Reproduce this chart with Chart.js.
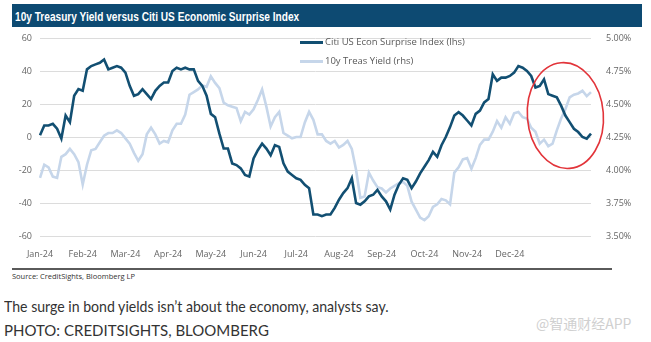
<!DOCTYPE html>
<html>
<head>
<meta charset="utf-8">
<script src="https://cdn.jsdelivr.net/npm/chart.js@4.4.1/dist/chart.umd.min.js"></script>
<style>
  body { margin: 0; width: 651px; height: 342px; background: #fff; position: relative; overflow: hidden; }
  #title { position: absolute; left: 12px; top: 4px; width: 630px; height: 23px; background: #0d4a72;
           line-height: 23px; padding-left: 3px; box-sizing: border-box; }
  #title span { display: inline-block; color: #fff; font: bold 12.5px 'Liberation Sans', Arial, sans-serif;
                transform: scaleX(0.81); transform-origin: left center; white-space: nowrap; }
  #wrap { position: absolute; left: 0; top: 0; width: 651px; height: 262px; }
  #legend { position: absolute; left: 300px; top: 34px; font: 9.5px 'Open Sans', sans-serif; color: #595959; }
  #legend div { height: 19px; line-height: 15px; white-space: nowrap; }
  #legend span.ln { display: inline-block; width: 23px; height: 3px; vertical-align: middle; margin-right: 2px; }
  #src { position: absolute; left: 12px; top: 268px; width: 600px; border-top: 2px solid #5a5a5a;
         font: 7.5px 'Open Sans', sans-serif; color: #333; padding-top: 1px; }
  .cap { position: absolute; left: 4px; font: 15px Lato, sans-serif; color: #333; white-space: nowrap;
         transform-origin: left center; }
  #cap1 { top: 297px; transform: scaleX(0.94); }
  #cap2 { top: 321px; }
  #wm { position: absolute; left: 536px; top: 313px; font: 14px 'Noto Sans CJK SC', sans-serif; color: #d0d0d0; }
</style>
</head>
<body>
<div id="title"><span>10y Treasury Yield versus Citi US Economic Surprise Index</span></div>
<div id="wrap"><canvas id="chart"></canvas></div>
<div id="legend"></div>
<div id="src">Source: CreditSights, Bloomberg LP</div>
<div id="cap1" class="cap">The surge in bond yields isn’t about the economy, analysts say.</div>
<div id="cap2" class="cap">PHOTO: CREDITSIGHTS, BLOOMBERG</div>
<div id="wm">@智通财经APP</div>
<script>
// month tick labels, one every 10 points
const months = ['Jan-24', 'Feb-24', 'Mar-24', 'Apr-24', 'May-24', 'Jun-24',
                'Jul-24', 'Aug-24', 'Sep-24', 'Oct-24', 'Nov-24', 'Dec-24']
const pointsPerMonth = 10

// Citi US Econ Surprise Index (lhs)
const surprise = [
  1, 7, 7, 8, 5, -1, 13, 9, 25, 29,
  28, 41, 43, 44, 45, 47, 41, 42, 43, 42,
  39, 31, 25, 26, 29, 26, 23, 28, 31, 33,
  33, 40, 42, 41, 42, 41, 41, 34, 31, 25,
  14, 12, 2, -7, -7, -16, -17, -19, -23, -24,
  -13, -8, -4, -7, -11, -5, -6, -16, -21, -23,
  -25, -26, -29, -31, -47, -47, -48, -47, -47, -43,
  -38, -34, -31, -25, -40, -41, -39, -36, -35, -32,
  -36, -39, -44, -35, -29, -25, -26, -31, -27, -22,
  -18, -14, -9, -12, -5, 0, 6, 13, 15, 13,
  10, 7, 14, 16, 21, 23, 38, 34, 36, 36,
  37, 39, 43, 42, 40, 37, 30, 31, 35, 26,
  25, 24, 19, 13, 9, 5, 3, 0, -1, 2
]

// 10y Treas Yield (rhs), %
const yield10 = [
  3.94, 4.04, 4.02, 3.95, 3.94, 4.10, 4.12, 4.16, 4.12, 4.06,
  3.89, 4.04, 4.15, 4.16, 4.21, 4.26, 4.28, 4.28, 4.30, 4.28,
  4.24, 4.20, 4.13, 4.07, 4.12, 4.27, 4.32, 4.27, 4.20, 4.22,
  4.21, 4.30, 4.35, 4.35, 4.42, 4.57, 4.59, 4.61, 4.64, 4.63,
  4.71, 4.66, 4.62, 4.51, 4.49, 4.48, 4.47, 4.37, 4.44, 4.42,
  4.46, 4.53, 4.61, 4.48, 4.33, 4.40, 4.44, 4.28, 4.26, 4.24,
  4.25, 4.25, 4.36, 4.44, 4.38, 4.27, 4.27, 4.22, 4.20, 4.22,
  4.17, 4.19, 4.22, 4.16, 4.00, 3.79, 3.80, 3.98, 3.92, 3.87,
  3.86, 3.83, 3.86, 3.88, 3.90, 3.91, 3.88, 3.76, 3.70, 3.64,
  3.62, 3.65, 3.72, 3.74, 3.78, 3.77, 3.74, 3.98, 4.02, 4.08,
  4.09, 4.01, 4.09, 4.19, 4.23, 4.23, 4.29, 4.37, 4.32, 4.40,
  4.35, 4.43, 4.44, 4.40, 4.39, 4.32, 4.29, 4.20, 4.23, 4.18,
  4.20, 4.30, 4.39, 4.46, 4.55, 4.57, 4.58, 4.60, 4.56, 4.59
]

const seriesNames = ['Citi US Econ Surprise Index (lhs)', '10y Treas Yield (rhs)']
const darkBlue = '#124f72'
const lightBlue = '#c6d6ea'

let labels = surprise.map((v, i) => (i % pointsPerMonth === 0 && months[i / pointsPerMonth]) ? months[i / pointsPerMonth] : '')

// red circle round the last weeks
const circlePlugin = {
  id: 'circle',
  afterDatasetsDraw(chart) {
    const ctx = chart.ctx
    const cx = chart.scales.x.getPixelForValue(123)
    const cy = chart.scales.y.getPixelForValue(13)
    ctx.save()
    ctx.beginPath()
    ctx.ellipse(cx, cy, 38, 53, -0.08, 0, Math.PI * 2)
    ctx.strokeStyle = '#e2343a'
    ctx.lineWidth = 1.6
    ctx.stroke()
    ctx.restore()
  }
}

const tickFont = { family: 'Open Sans', size: 9 }

new Chart(document.getElementById('chart'), {
  type: 'line',
  data: {
    labels: labels,
    datasets: [{
      label: seriesNames[0],
      data: surprise,
      yAxisID: 'y',
      borderColor: darkBlue,
      borderWidth: 2.6,
      pointRadius: 0,
      tension: 0
    }, {
      label: seriesNames[1],
      data: yield10,
      yAxisID: 'y2',
      borderColor: lightBlue,
      borderWidth: 2.6,
      pointRadius: 0,
      tension: 0
    }]
  },
  options: {
    responsive: true,
    maintainAspectRatio: false,
    animation: false,
    layout: { padding: { top: 38, left: 0, right: 0, bottom: 0 } },
    plugins: { legend: { display: false }, tooltip: { enabled: false } },
    scales: {
      x: {
        grid: { display: false },
        border: { display: false },
        ticks: { autoSkip: false, maxRotation: 0, padding: 5, color: '#666', font: tickFont },
        afterFit: s => { s.height = 26 }
      },
      y: {
        position: 'left',
        min: -60, max: 60,
        grid: { color: '#dcdcdc', lineWidth: 1, drawTicks: false },
        border: { display: false },
        ticks: { stepSize: 20, padding: 8, color: '#666', font: tickFont },
        afterFit: s => { s.width = 40 }
      },
      y2: {
        position: 'right',
        min: 3.5, max: 5.0,
        grid: { display: false },
        border: { display: false },
        ticks: { stepSize: 0.25, padding: 7, color: '#666', font: tickFont,
                 callback: v => v.toFixed(2) + '%' },
        afterFit: s => { s.width = 60 }
      }
    }
  },
  plugins: [circlePlugin]
})

// legend
document.getElementById('legend').innerHTML =
  '<div><span class="ln" style="background:' + darkBlue + '"></span>' + seriesNames[0] + '</div>' +
  '<div><span class="ln" style="background:' + lightBlue + '"></span>' + seriesNames[1] + '</div>'
</script>
</body>
</html>
